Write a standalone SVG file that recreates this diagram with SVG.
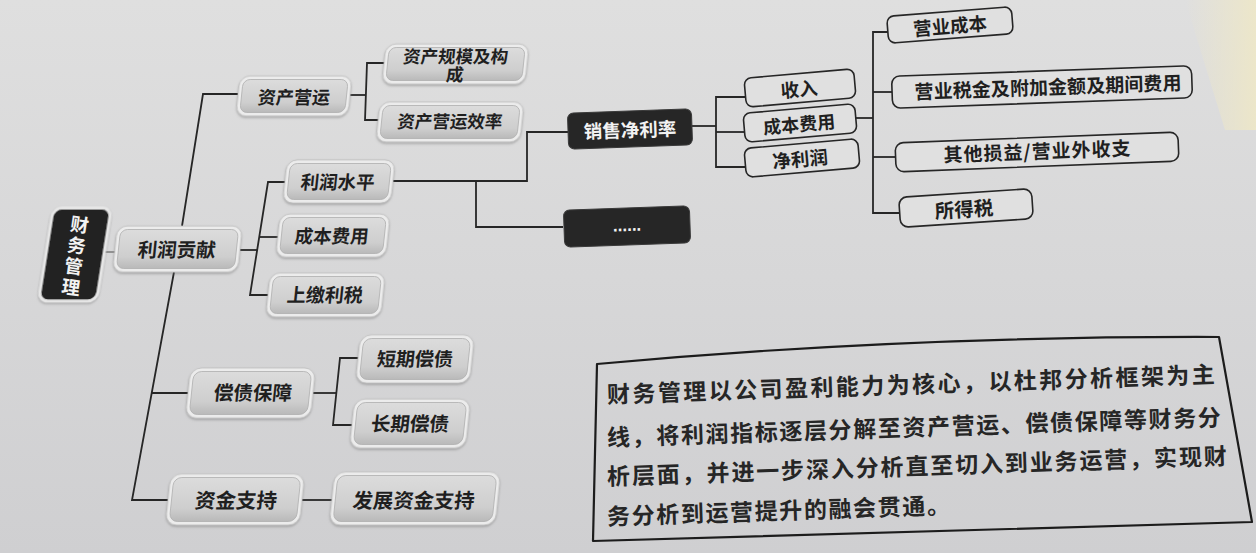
<svg xmlns="http://www.w3.org/2000/svg" width="1256" height="553" viewBox="0 0 1256 553">
<defs>
<linearGradient id="bg" x1="0" y1="0" x2="0" y2="1">
<stop offset="0" stop-color="#dfdfdf"/>
<stop offset="0.5" stop-color="#d7d7d8"/>
<stop offset="1" stop-color="#cfcfd1"/>
</linearGradient>
<linearGradient id="cream" x1="0" y1="0" x2="1" y2="0">
<stop offset="0" stop-color="#efe8c6" stop-opacity="0"/>
<stop offset="1" stop-color="#efe8c6" stop-opacity="0.85"/>
</linearGradient>
<linearGradient id="gf" x1="0" y1="0" x2="0" y2="1">
<stop offset="0" stop-color="#dcdcdc"/>
<stop offset="0.7" stop-color="#cecece"/>
<stop offset="1" stop-color="#b9b9b9"/>
</linearGradient>
<filter id="sh" x="-10%" y="-20%" width="120%" height="150%">
<feDropShadow dx="0" dy="1.5" stdDeviation="1.2" flood-color="#707070" flood-opacity="0.5"/>
</filter>
<style>
.rim{fill:#ececec;stroke:#bdbdbd;stroke-width:0.8;filter:url(#sh)}
.face{fill:url(#gf);stroke:#b0b0b0;stroke-width:0.8}
.lt{font-family:"Noto Sans CJK SC","Noto Sans",sans-serif;font-weight:700;fill:#1f1f1f;text-anchor:middle;dominant-baseline:central}
.wb{fill:#e0e0e0;stroke:#262626;stroke-width:1.6}
.db{fill:#262626;stroke:#3a3a3a;stroke-width:1}
.wt{font-family:"Noto Sans CJK SC","Noto Sans",sans-serif;font-weight:700;fill:#f2f2f2;text-anchor:middle;dominant-baseline:central}
.ln{fill:none;stroke:#262626;stroke-width:1.8}
.bt{font-family:"Noto Sans CJK SC","Noto Sans",sans-serif;font-weight:700;fill:#262626;font-size:23px;dominant-baseline:central}
</style>
</defs>
<rect x="0" y="0" width="1256" height="553" fill="url(#bg)"/>
<polygon points="1185,0 1256,0 1256,130 1225,130" fill="url(#cream)"/>

<g id="connectors" class="ln">
<path d="M104,252 H117" stroke="#8a8a8a"/>
<path d="M238,94 H203 L182,226"/>
<path d="M174,272 L132,500 H168"/>
<path d="M152,393 H188"/>
<path d="M350,95 H366"/>
<path d="M385,63 H367 L365,120 H379"/>
<path d="M240,250 H257"/>
<path d="M287,182 H268 L250,295 H269"/>
<path d="M259,237 H279"/>
<path d="M393,181 H527 V132 H568"/>
<path d="M476,181 V227 H563"/>
<path d="M692,126 H716"/>
<path d="M745,97 H716 V167 H745"/>
<path d="M716,132 H745"/>
<path d="M856,118 H873"/>
<path d="M888,32 H873 V213 H900"/>
<path d="M873,92 H892"/>
<path d="M873,157 H896"/>
<path d="M313,393 H336"/>
<path d="M362,358 H340 L333,425 H353"/>
<path d="M302,500 H332"/>
</g>

<g id="n-root">
<rect x="46" y="208" width="58" height="93" rx="9" fill="#242424" stroke="#e6e6e6" stroke-width="3" filter="url(#sh)" transform="translate(75,254) skewX(-9) translate(-75,-254)"/>
<text class="wt" x="75" y="257" font-size="18.5" letter-spacing="2.5" writing-mode="vertical-rl" fill="#e8e8e8" transform="rotate(8,75,257)">财务管理</text>
</g>

<g id="n-lrgx" transform="translate(177,249) skewX(-6) translate(-177,-249)">
<rect class="rim" x="115" y="226" width="125" height="46" rx="10"/>
<rect class="face" x="118.5" y="229.5" width="118" height="39" rx="7"/>
<text class="lt" x="177" y="249" font-size="19.5">利润贡献</text>
</g>

<g id="n-zcyy" transform="translate(294,96) skewX(-6) translate(-294,-96)">
<rect class="rim" x="238" y="76" width="112" height="40" rx="10"/>
<rect class="face" x="241.5" y="79.5" width="105" height="33" rx="7"/>
<text class="lt" x="294" y="96" font-size="18">资产营运</text>
</g>

<g id="n-zcgm" transform="translate(455,64) skewX(-6) translate(-455,-64)">
<rect class="rim" x="384" y="44" width="143" height="40" rx="10"/>
<rect class="face" x="387.5" y="47.5" width="136" height="33" rx="7"/>
<text class="lt" x="455" y="56" font-size="17.5">资产规模及构</text>
<text class="lt" x="456" y="74" font-size="17.5">成</text>
</g>

<g id="n-zcxl" transform="translate(450,122) skewX(-6) translate(-450,-122)">
<rect class="rim" x="378" y="102" width="144" height="40" rx="10"/>
<rect class="face" x="381.5" y="105.5" width="137" height="33" rx="7"/>
<text class="lt" x="450" y="121" font-size="17.5">资产营运效率</text>
</g>

<g id="n-lrsp" transform="translate(339,181) skewX(-6) translate(-339,-181)">
<rect class="rim" x="285" y="160" width="108" height="43" rx="10"/>
<rect class="face" x="288.5" y="163.5" width="101" height="36" rx="7"/>
<text class="lt" x="338" y="181" font-size="18.5">利润水平</text>
</g>

<g id="n-cbfy1" transform="translate(333,235) skewX(-6) translate(-333,-235)">
<rect class="rim" x="278" y="214" width="110" height="43" rx="10"/>
<rect class="face" x="281.5" y="217.5" width="103" height="36" rx="7"/>
<text class="lt" x="332" y="235" font-size="18.5">成本费用</text>
</g>

<g id="n-sjls" transform="translate(325,295) skewX(-6) translate(-325,-295)">
<rect class="rim" x="268" y="273" width="115" height="44" rx="10"/>
<rect class="face" x="271.5" y="276.5" width="108" height="37" rx="7"/>
<text class="lt" x="325" y="294" font-size="19">上缴利税</text>
</g>

<g id="n-xsjll">
<rect class="db" x="568" y="111" width="124" height="36" rx="6" transform="rotate(-2,630,129)"/>
<text class="wt" x="630" y="129" font-size="18.5" transform="rotate(-2,630,129)">销售净利率</text>
</g>

<g id="n-more">
<rect class="db" x="564" y="208" width="126" height="37" rx="6" transform="rotate(-2,627,226)"/>
<text x="627" y="231" font-family="'Liberation Sans',Arial,sans-serif" font-weight="700" font-size="17" fill="#f2f2f2" text-anchor="middle" transform="rotate(-2,627,226)">......</text>
</g>

<g id="n-sr" transform="rotate(-5,800,88)">
<rect class="wb" x="745" y="73.5" width="110" height="29" rx="7"/>
<text class="lt" x="799" y="88" font-size="18.5">收入</text>
</g>

<g id="n-cbfy2" transform="rotate(-5,800,123)">
<rect class="wb" x="744" y="108.5" width="112" height="29" rx="7"/>
<text class="lt" x="799" y="123" font-size="18">成本费用</text>
</g>

<g id="n-jlr" transform="rotate(-5,802,158)">
<rect class="wb" x="745" y="143.5" width="114" height="29" rx="7"/>
<text class="lt" x="800" y="158" font-size="18.5">净利润</text>
</g>

<g id="n-yycb" transform="rotate(-4.5,950,25)">
<rect class="wb" x="887.5" y="11.5" width="125" height="27" rx="7"/>
<text class="lt" x="950" y="25" font-size="18.5">营业成本</text>
</g>

<g id="n-yysj" transform="rotate(-2,1042,87)">
<rect class="wb" x="892" y="71" width="300" height="32" rx="8"/>
<text class="lt" x="1048" y="86" font-size="19" textLength="267" lengthAdjust="spacing">营业税金及附加金额及期间费用</text>
</g>

<g id="n-qtsy" transform="rotate(-2.2,1037,152)">
<rect class="wb" x="895.5" y="137.5" width="283" height="29" rx="8"/>
<text class="lt" x="1037" y="150" font-size="19" textLength="187" lengthAdjust="spacing">其他损益/营业外收支</text>
</g>

<g id="n-sds" transform="rotate(-3.8,966,208)">
<rect class="wb" x="899.5" y="193" width="133" height="30" rx="8"/>
<text class="lt" x="964" y="208" font-size="19.5">所得税</text>
</g>

<g id="n-czbz" transform="translate(251,393) skewX(-6) translate(-251,-393)">
<rect class="rim" x="188" y="368" width="125" height="50" rx="11"/>
<rect class="face" x="191.5" y="371.5" width="118" height="43" rx="8"/>
<text class="lt" x="253" y="392" font-size="19.5">偿债保障</text>
</g>

<g id="n-dqcz" transform="translate(415,359) skewX(-6) translate(-415,-359)">
<rect class="rim" x="358" y="335" width="114" height="48" rx="11"/>
<rect class="face" x="361.5" y="338.5" width="107" height="41" rx="8"/>
<text class="lt" x="415" y="358" font-size="19">短期偿债</text>
</g>

<g id="n-cqcz" transform="translate(410,424) skewX(-6) translate(-410,-424)">
<rect class="rim" x="352" y="399" width="116" height="49" rx="11"/>
<rect class="face" x="355.5" y="402.5" width="109" height="42" rx="8"/>
<text class="lt" x="410" y="423" font-size="19.5">长期偿债</text>
</g>

<g id="n-zjzc" transform="translate(235,500) skewX(-6) translate(-235,-500)">
<rect class="rim" x="168" y="474" width="134" height="51" rx="11"/>
<rect class="face" x="171.5" y="477.5" width="127" height="44" rx="8"/>
<text class="lt" x="236" y="499" font-size="20.5">资金支持</text>
</g>

<g id="n-fzzj" transform="translate(415,498) skewX(-6) translate(-415,-498)">
<rect class="rim" x="332" y="472" width="166" height="53" rx="11"/>
<rect class="face" x="335.5" y="475.5" width="159" height="46" rx="8"/>
<text class="lt" x="414" y="499" font-size="20.3">发展资金支持</text>
</g>

<g id="note">
<path d="M597,364 Q900,336 1219,337 L1252,522 L593,541 Z" fill="none" stroke="#1c1c1c" stroke-width="2.2" stroke-linejoin="round"/>
<text class="bt" x="607" y="393" textLength="608" lengthAdjust="spacing" transform="rotate(-1.9,607,393)">财务管理以公司盈利能力为核心，以杜邦分析框架为主</text>
<text class="bt" x="607" y="436" textLength="614" lengthAdjust="spacing" transform="rotate(-1.9,607,436)">线，将利润指标逐层分解至资产营运、偿债保障等财务分</text>
<text class="bt" x="607" y="475" textLength="620" lengthAdjust="spacing" transform="rotate(-1.9,607,475)">析层面，并进一步深入分析直至切入到业务运营，实现财</text>
<text class="bt" x="607" y="515" textLength="343" lengthAdjust="spacing" transform="rotate(-1.9,607,515)">务分析到运营提升的融会贯通。</text>
</g>
</svg>
